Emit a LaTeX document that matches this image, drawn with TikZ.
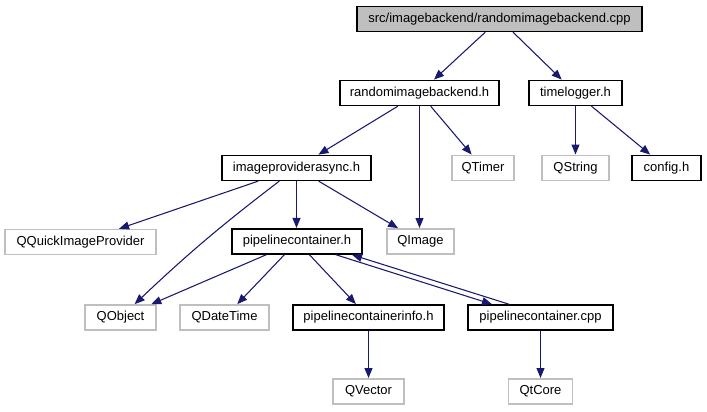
\documentclass[tikz,border=0pt]{standalone}
\usepackage{fontspec}
\setmainfont{Liberation Sans}
\usetikzlibrary{arrows.meta,calc}
\definecolor{edgeblue}{HTML}{191970}
\definecolor{extgray}{HTML}{BFBFBF}
\begin{document}
\begin{tikzpicture}[x=0.75pt,y=-0.75pt,
  font=\fontsize{9.75}{11}\selectfont,
  base/.style={rectangle,inner sep=0pt,minimum height=18.75pt},
  wd/.style={minimum width=#1*0.75pt},
  filebox/.style={base,draw=black,line width=1pt,fill=white},
  mainbox/.style={base,draw=black,line width=1pt,fill=extgray},
  extbox/.style={base,draw=extgray,line width=0.9pt,fill=white},
  edge/.style={draw=edgeblue,line width=0.8pt,-{Triangle[length=7.5pt,width=6pt]},shorten >=0.3pt}]
\useasboundingbox (0,0) rectangle (707,411);
% row 0
\node[mainbox,wd=285] (cpp) at (499.5,19) {src/imagebackend/randomimagebackend.cpp};
% row 1
\node[filebox,wd=159] (rib) at (419.5,93) {randomimagebackend.h};
\node[filebox,wd=93] (tl) at (575.5,93) {timelogger.h};
% row 2
\node[filebox,wd=149] (ipa) at (296.5,168) {imageproviderasync.h};
\node[extbox,wd=62] (qtimer) at (483,168) {QTimer};
\node[extbox,wd=67] (qstring) at (575.5,168) {QString};
\node[filebox,wd=69] (config) at (666.5,168) {config.h};
% row 3
\node[extbox,wd=151] (qquick) at (80.5,242) {QQuickImageProvider};
\node[filebox,wd=130] (pch) at (297,241.5) {pipelinecontainer.h};
\node[extbox,wd=67] (qimage) at (420.5,241.5) {QImage};
% row 4
\node[extbox,wd=71] (qobject) at (120.5,317.5) {QObject};
\node[extbox,wd=89] (qdatetime) at (224.5,317.5) {QDateTime};
\node[filebox,wd=151] (pci) at (368.5,317.5) {pipelinecontainerinfo.h};
\node[filebox,wd=145] (pcc) at (540.5,317.5) {pipelinecontainer.cpp};
% row 5
\node[extbox,wd=71] (qvector) at (368.5,391.5) {QVector};
\node[extbox,wd=64] (qtcore) at (540.5,391.5) {QtCore};
% edges
\draw[edge] (cpp) -- (rib);
\draw[edge] (cpp) -- (tl);
\draw[edge] (rib) -- (ipa);
\draw[edge] (rib) -- (qtimer);
\draw[edge] (rib.south) -- (rib.south |- qimage.north);
\draw[edge] (tl.south) -- (tl.south |- qstring.north);
\draw[edge] (tl) -- (config);
\draw[edge] (ipa) -- (qquick);
\draw[edge] (ipa) to[bend right=3] (qobject);
\draw[edge] (ipa.south) -- (ipa.south |- pch.north);
\draw[edge] (ipa) -- (qimage);
\draw[edge] (pch) -- (qobject);
\draw[edge] (pch) -- (qdatetime);
\draw[edge] (pch) -- (pci);
\draw[edge] ($(pch.south east)+(-27,0)$) -- ($(pcc.north west)+(25,0)$);
\draw[edge] ($(pcc.north west)+(42,0)$) -- ($(pch.south east)+(-11,0)$);
\draw[edge] (pci.south) -- (pci.south |- qvector.north);
\draw[edge] (pcc.south) -- (pcc.south |- qtcore.north);
\end{tikzpicture}
\end{document}
